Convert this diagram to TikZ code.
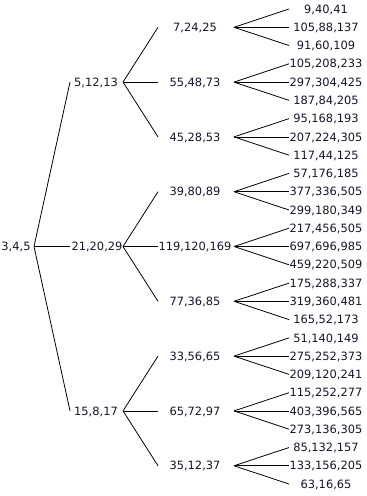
\documentclass[tikz,border=0pt]{standalone}
\usepackage{fontspec}
\setmainfont{DejaVu Sans}
\usepackage{tikz}
\usetikzlibrary{positioning,calc}

\tikzset{
  triple/.style={inner sep=0pt, text height=4.7pt, text depth=0pt, font=\fontsize{6.5}{7.8}\selectfont, text={rgb,255:red,20;green,20;blue,40}},
  branch/.style={line width=0.45pt, black}
}

\begin{document}
\begin{tikzpicture}[x=0.02cm, y=-0.02cm]
    \useasboundingbox (0,0) rectangle (366,496);

    % Fork and end columns
    \coordinate (g0) at (34,0);
    \coordinate (e1) at (70,0);
    \coordinate (g1) at (123,0);
    \coordinate (e2) at (158,0);
    \coordinate (g2) at (234,0);
    \coordinate (e3) at (289,0);

    % Root and first generation
    \node[triple] (root) at (16,246.5) {3,4,5};
    \node[triple] (n1) at (96,82.1) {5,12,13};
    \node[triple] (n2) at (97,246.5) {21,20,29};
    \node[triple] (n3) at (96,410.9) {15,8,17};

    % Second generation
    \node[triple] (n11) at (195,27.3) {7,24,25};
    \node[triple] (n12) at (195,82.1) {55,48,73};
    \node[triple] (n13) at (195,136.9) {45,28,53};
    \node[triple] (n21) at (195,191.7) {39,80,89};
    \node[triple] (n22) at (195,246.5) {119,120,169};
    \node[triple] (n23) at (195,301.3) {77,36,85};
    \node[triple] (n31) at (195,356.1) {33,56,65};
    \node[triple] (n32) at (195,410.9) {65,72,97};
    \node[triple] (n33) at (195,465.8) {35,12,37};

    % Third generation
    \node[triple] (n111) at (326,9) {9,40,41};
    \node[triple] (n112) at (326,27.3) {105,88,137};
    \node[triple] (n113) at (326,45.5) {91,60,109};
    \node[triple] (n121) at (326,63.8) {105,208,233};
    \node[triple] (n122) at (326,82.1) {297,304,425};
    \node[triple] (n123) at (326,100.4) {187,84,205};
    \node[triple] (n131) at (326,118.6) {95,168,193};
    \node[triple] (n132) at (326,136.9) {207,224,305};
    \node[triple] (n133) at (326,155.2) {117,44,125};
    \node[triple] (n211) at (326,173.4) {57,176,185};
    \node[triple] (n212) at (326,191.7) {377,336,505};
    \node[triple] (n213) at (326,210) {299,180,349};
    \node[triple] (n221) at (326,228.2) {217,456,505};
    \node[triple] (n222) at (326,246.5) {697,696,985};
    \node[triple] (n223) at (326,264.8) {459,220,509};
    \node[triple] (n231) at (326,283.1) {175,288,337};
    \node[triple] (n232) at (326,301.3) {319,360,481};
    \node[triple] (n233) at (326,319.6) {165,52,173};
    \node[triple] (n311) at (326,337.9) {51,140,149};
    \node[triple] (n312) at (326,356.1) {275,252,373};
    \node[triple] (n313) at (326,374.4) {209,120,241};
    \node[triple] (n321) at (326,392.7) {115,252,277};
    \node[triple] (n322) at (326,410.9) {403,396,565};
    \node[triple] (n323) at (326,429.2) {273,136,305};
    \node[triple] (n331) at (326,447.5) {85,132,157};
    \node[triple] (n332) at (326,465.8) {133,156,205};
    \node[triple] (n333) at (326,484) {63,16,65};

    % Branches
    \foreach \c in {n1,n2,n3}
        \draw[branch] (root -| g0) -- (\c -| e1);
    \foreach \p in {n1,n2,n3}
        \foreach \k in {1,2,3}
            \draw[branch] (\p -| g1) -- (\p\k -| e2);
    \foreach \p in {n11,n12,n13,n21,n22,n23,n31,n32,n33}
        \foreach \k in {1,2,3}
            \draw[branch] (\p -| g2) -- (\p\k -| e3);
\end{tikzpicture}
\end{document}
